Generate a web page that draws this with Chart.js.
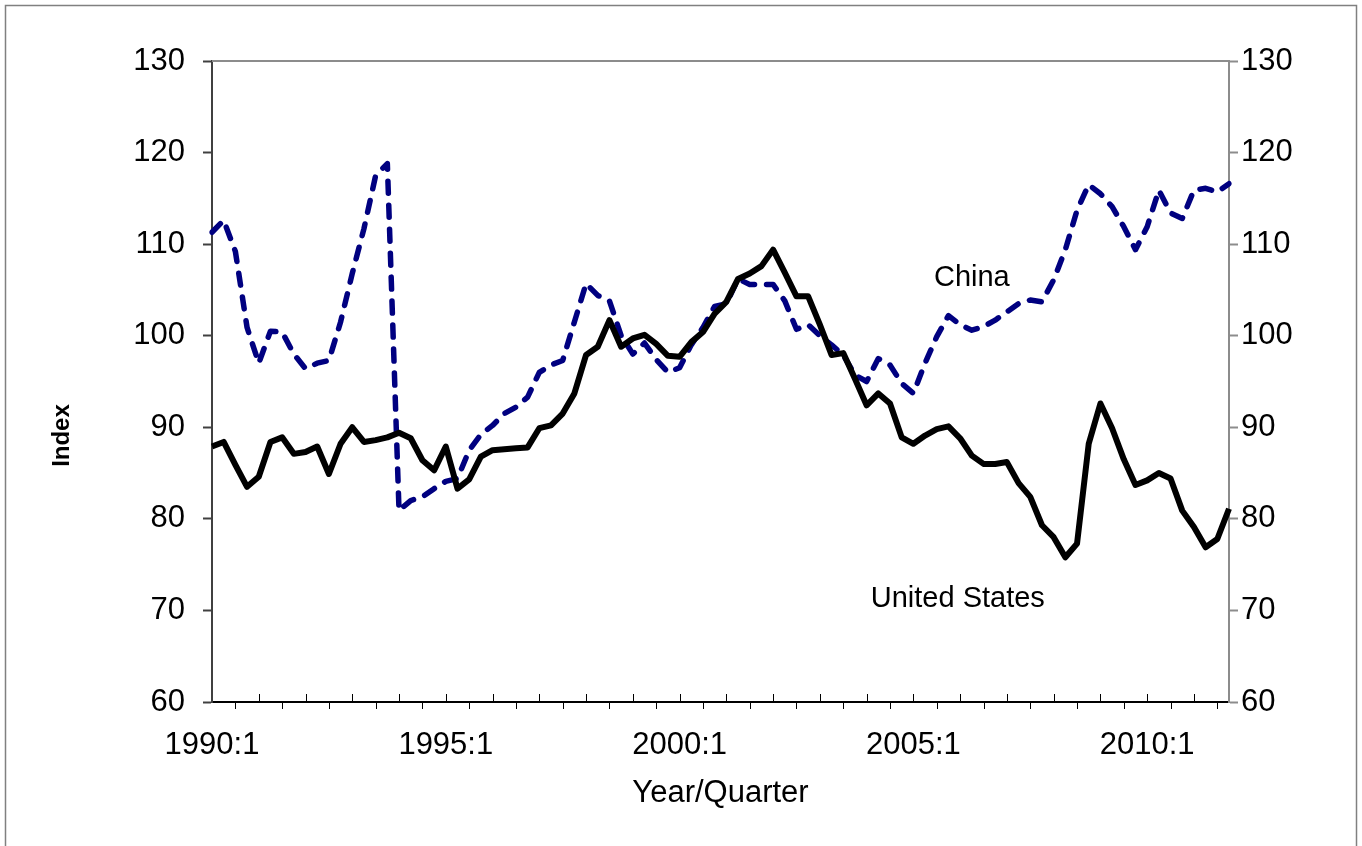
<!DOCTYPE html>
<html>
<head>
<meta charset="utf-8">
<script src="https://cdn.jsdelivr.net/npm/chart.js@4.4.1/dist/chart.umd.min.js"></script>
<style>
  html, body { margin: 0; padding: 0; background: #fff; }
</style>
</head>
<body>
<canvas id="chart" width="1362" height="846"></canvas>
<script>
// Trimestres 1990:1 - 2011:4
const years = [];
for (let y = 1990; y <= 2011; y++) years.push(y);
const quarters = [];
for (const y of years) for (let q = 1; q <= 4; q++) quarters.push(y + ":" + q);

const yTicks = [60, 70, 80, 90, 100, 110, 120, 130];

// Índices
const unitedStates = [
  87.9, 88.4, 85.9, 83.5, 84.6, 88.4, 88.9, 87.1, 87.3, 87.9,
  84.9, 88.2, 90.0, 88.4, 88.6, 88.9, 89.4, 88.8, 86.4, 85.3,
  87.9, 83.3, 84.3, 86.8, 87.5, 87.6, 87.7, 87.8, 89.9, 90.2,
  91.5, 93.7, 97.9, 98.8, 101.7, 98.8, 99.7, 100.1, 99.1, 97.8,
  97.7, 99.3, 100.4, 102.4, 103.7, 106.2, 106.8, 107.6, 109.4, 106.9,
  104.3, 104.3, 101.2, 97.9, 98.1, 95.3, 92.4, 93.7, 92.6, 88.9,
  88.2, 89.1, 89.8, 90.1, 88.8, 86.9, 86.0, 86.0, 86.2, 83.9,
  82.4, 79.3, 78.0, 75.8, 77.3, 88.2, 92.6, 89.9, 86.5, 83.7,
  84.2, 85.0, 84.4, 80.9, 79.1, 76.9, 77.8, 81.1
];

const china = [
  111.3, 112.6, 109.2, 100.9, 97.0, 100.5, 100.4, 98.0, 96.4, 97.0,
  97.3, 101.5, 106.8, 111.7, 117.5, 118.8, 80.9, 82.0, 82.4, 83.3,
  84.1, 84.4, 87.5, 89.2, 90.2, 91.5, 92.2, 93.3, 96.0, 96.8,
  97.3, 101.5, 105.7, 104.4, 103.8, 100.0, 98.0, 99.2, 97.4, 96.0,
  96.5, 99.0, 100.9, 103.2, 103.5, 106.2, 105.6, 105.6, 105.6, 103.8,
  100.7, 101.2, 100.0, 99.0, 97.9, 95.7, 95.0, 97.5, 96.8, 94.8,
  93.7, 97.0, 99.9, 102.2, 101.2, 100.6, 101.0, 101.7, 102.6, 103.5,
  103.9, 103.7, 106.1, 109.4, 113.7, 116.5, 115.5, 114.1, 111.9, 109.4,
  111.9, 115.9, 113.4, 112.8, 115.9, 116.1, 115.7, 116.6
];

const seriesNames = ["United States", "China"];

const FONT = "'Liberation Sans', Arial, sans-serif";

// Marco, borde superior, marcas del eje X, título "Index" y etiquetas de las series
const decorations = {
  id: "decorations",
  beforeDraw(chart) {
    const ctx = chart.ctx;
    ctx.save();
    ctx.fillStyle = "#fff";
    ctx.fillRect(0, 0, chart.width, chart.height);
    ctx.strokeStyle = "#808080";
    ctx.lineWidth = 1.5;
    ctx.strokeRect(5.5, 5.5, chart.width - 11, chart.height + 20);
    ctx.restore();
  },
  afterDraw(chart) {
    const { ctx, chartArea, scales } = chart;
    ctx.save();
    ctx.strokeStyle = "#8c8c8c";
    ctx.lineWidth = 2;
    ctx.beginPath();
    ctx.moveTo(chartArea.left, chartArea.top);
    ctx.lineTo(chartArea.right, chartArea.top);
    ctx.stroke();

    ctx.strokeStyle = "#000";
    ctx.lineWidth = 1;
    for (let i = 2; i < quarters.length; i += 2) {
      const x = Math.round(scales.x.getPixelForValue(i)) + 0.5;
      const y = chartArea.bottom;
      ctx.beginPath();
      if (i % 4 === 2) {
        ctx.moveTo(x, y);
        ctx.lineTo(x, y + 7);
      } else {
        ctx.moveTo(x, y);
        ctx.lineTo(x, y - 8);
      }
      ctx.stroke();
    }

    ctx.fillStyle = "#000";
    ctx.textAlign = "center";
    ctx.textBaseline = "middle";

    ctx.save();
    ctx.translate(62, scales.y.getPixelForValue(89.1));
    ctx.rotate(-Math.PI / 2);
    ctx.font = "bold 24px " + FONT;
    ctx.fillText("Index", 0, 0);
    ctx.restore();

    ctx.font = "29px " + FONT;
    ctx.fillText(seriesNames[1], scales.x.getPixelForValue(65), scales.y.getPixelForValue(106.3));
    ctx.fillText(seriesNames[0], scales.x.getPixelForValue(63.8), scales.y.getPixelForValue(71.3));
    ctx.restore();
  },
};

const ctx = document.getElementById("chart").getContext("2d");

const chart = new Chart(ctx, {
  type: "line",
  data: {
    labels: quarters,
    datasets: [
      {
        label: seriesNames[0],
        data: unitedStates,
        borderColor: "#000",
        borderWidth: 6,
        borderJoinStyle: "round",
        pointRadius: 0,
        tension: 0,
        yAxisID: "y",
      },
      {
        label: seriesNames[1],
        data: china,
        borderColor: "#000080",
        borderWidth: 5.5,
        borderDash: [12, 12],
        borderCapStyle: "round",
        borderJoinStyle: "round",
        pointRadius: 0,
        tension: 0,
        yAxisID: "y",
      },
    ],
  },
  options: {
    responsive: false,
    animation: false,
    layout: { padding: { top: 61, left: 0, right: 0, bottom: 0 } },
    plugins: {
      legend: { display: false },
      tooltip: { enabled: false },
    },
    scales: {
      x: {
        type: "category",
        offset: false,
        grid: { display: true, drawOnChartArea: false, drawTicks: false },
        border: { color: "#000", width: 2 },
        ticks: {
          autoSkip: false,
          maxRotation: 0,
          padding: 25,
          color: "#000",
          font: { family: FONT, size: 31 },
          callback: (value, index) => (index % 20 === 0 ? quarters[index] : ""),
        },
        title: {
          display: true,
          text: "Year/Quarter",
          color: "#000",
          font: { family: FONT, size: 31 },
          padding: { top: 0, bottom: 34 },
        },
        afterFit: (scale) => {
          scale.height = 144;
        },
      },
      y: {
        position: "left",
        min: yTicks[0],
        max: yTicks[yTicks.length - 1],
        grid: { drawOnChartArea: false, tickLength: 9, tickColor: "#404040", tickWidth: 2 },
        border: { color: "#404040", width: 2 },
        ticks: {
          stepSize: 10,
          padding: 18,
          color: "#000",
          font: { family: FONT, size: 31 },
        },
        afterFit: (scale) => {
          scale.width = 212;
        },
      },
      y2: {
        position: "right",
        min: yTicks[0],
        max: yTicks[yTicks.length - 1],
        grid: { drawOnChartArea: false, tickLength: 9, tickColor: "#8c8c8c", tickWidth: 2 },
        border: { color: "#8c8c8c", width: 2 },
        ticks: {
          stepSize: 10,
          padding: 3,
          color: "#000",
          font: { family: FONT, size: 31 },
        },
        afterFit: (scale) => {
          scale.width = 133;
        },
      },
    },
  },
  plugins: [decorations],
});
</script>
</body>
</html>
